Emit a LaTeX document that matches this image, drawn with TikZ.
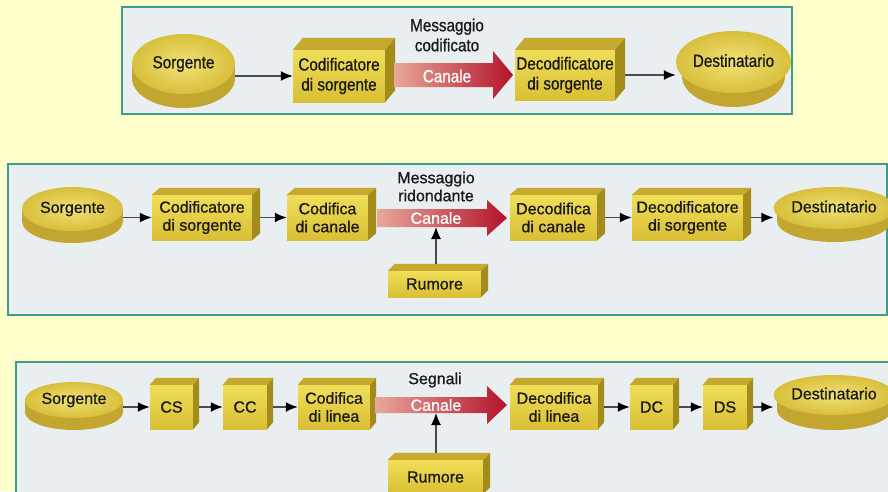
\documentclass[tikz,border=0pt]{standalone}
\usepackage{fontspec}
\setmainfont{Liberation Sans}[FakeBold=0.9]
\newfontfamily\condfont{Liberation Sans}[FakeStretch=0.87,FakeBold=0.9]
\usetikzlibrary{arrows.meta,calc,shapes.geometric}
\definecolor{bgyellow}{HTML}{FFFFCC}
\definecolor{panelfill}{HTML}{E9EEF0}
\definecolor{panelborder}{HTML}{3E9C8C}
\definecolor{boxfrontA}{HTML}{F0DE58}
\definecolor{boxfrontB}{HTML}{D9BF34}
\definecolor{boxtop}{HTML}{C6AA30}
\definecolor{boxside}{HTML}{A38C1C}
\definecolor{cyltop}{HTML}{F1E276}
\definecolor{cyledge}{HTML}{D8BF3C}
\definecolor{cylside}{HTML}{C2A630}
\definecolor{txt}{HTML}{1A1A1A}
\definecolor{linegray}{HTML}{4A4A4A}
\definecolor{canaleL}{HTML}{E8A89A}
\definecolor{canaleR}{HTML}{B3132A}
\newcommand\pone{\condfont\fontsize{17.5}{20}\selectfont}
\newcommand\ptwo{\fontsize{16}{18}\selectfont}
% #1 name, #2 x, #3 y, #4 w, #5 h, #6 side, #7 top
\newcommand\cubebox[8]{%
  \fill[boxtop] (#1.north west) -- ([shift={(#6,-#7)}]#1.north west) -- ([shift={(#6,-#7)}]#1.north east) -- (#1.north east) -- cycle;
  \fill[boxside] (#1.north east) -- ([shift={(#6,-#7)}]#1.north east) -- ([shift={(#6,-#7)}]#1.south east) -- (#1.south east) -- cycle;
}
\newcommand\mkbox[8]{%
  \node[frontface, minimum width=#4, minimum height=#5] (#1) at (#2,#3) {#8};
  \cubebox{#1}{#2}{#3}{#4}{#5}{#6}{#7}{}%
}
% #1 name, #2 cx, #3 C, #4 rx, #5 ry, #6 h, #7 text
\newcommand\puck[7]{%
  \fill[cylside] (#2,#3+#6) ellipse[x radius=#4, y radius=#5];
  \fill[cylside] (#2-#4,#3) rectangle (#2+#4,#3+#6);
  \node[topface, minimum width=2*#4, minimum height=2*#5] (#1) at (#2,#3) {\raisebox{3pt}{#7}};
}
% #1 x0, #2 tip x, #3 ymid, #4 shaft half, #5 head half, #6 head length
\newcommand\bigarrow[6]{%
  \shade[left color=canaleL, right color=canaleR] (#1,#3-#4) -- (#2-#6,#3-#4) -- (#2-#6,#3-#5) -- (#2,#3) -- (#2-#6,#3+#5) -- (#2-#6,#3+#4) -- (#1,#3+#4) -- cycle;
}
\begin{document}
\begin{tikzpicture}[x=1pt,y=-1pt,
  panel/.style={draw=panelborder, line width=1.4pt, fill=panelfill},
  frontface/.style={inner sep=0pt, align=center, text=txt, top color=boxfrontA, bottom color=boxfrontB},
  topface/.style={ellipse, inner sep=0pt, text=txt, inner color=cyltop, outer color=cyledge},
  conn/.style={draw=linegray, line width=1.6pt, -{Latex[length=12pt,width=10pt,color=black]}},
  noise/.style={draw=linegray, line width=1.1pt, -{Latex[length=12pt,width=10pt,color=black]}},
  lbl/.style={inner sep=0pt, align=center, text=txt},
  chan/.style={inner sep=0pt, text=white}]
\useasboundingbox (0,0) rectangle (888,491);
\clip (0,0) rectangle (888,491);
\fill[bgyellow] (0,0) rectangle (888,491);

% ---------------- Panel 1 ----------------
\draw[panel] (122,7) rectangle (792,114);
\begin{scope}[every node/.append style={font=\pone}]
\puck{S1}{183.5}{64}{51.5}{30}{14}{Sorgente}
\mkbox{A1}{339}{76}{92}{52}{10}{12}{Codificatore\\di sorgente}
\bigarrow{394}{513}{75}{12}{24}{20}
\node[chan] (K1) at (447,76) {Canale};
\node[lbl] (M1) at (447,35) {Messaggio\\codificato};
\mkbox{B1}{565}{75}{100}{50}{10}{12}{Decodificatore\\di sorgente}
\puck{D1}{733.5}{62}{51.5}{31}{14}{Destinatario}
\end{scope}
\draw[conn] (S1.east |- A1.west) -- (A1.west);
\draw[conn] ([xshift=10pt]B1.east) -- (D1.west |- B1.east);

% ---------------- Panel 2 ----------------
\draw[panel] (8,164) rectangle (887,315);
\begin{scope}[every node/.append style={font=\ptwo}]
\puck{S2}{72.5}{209}{50.5}{22}{12}{Sorgente}
\mkbox{A2}{202}{217.5}{100}{45}{8}{7}{Codificatore\\di sorgente}
\mkbox{B2}{327.5}{217.5}{81}{45}{8}{7}{Codifica\\di canale}
\bigarrow{377}{507}{218}{9}{18}{20}
\node[chan] (K2) at (436,218) {Canale};
\coordinate (K2b) at (436,227);
\node[lbl] (M2) at (436,186.5) {Messaggio\\ridondante};
\mkbox{C2}{553.5}{217.5}{87}{45}{8}{7}{Decodifica\\di canale}
\mkbox{E2}{687.5}{217.5}{111}{45}{8}{7}{Decodificatore\\di sorgente}
\puck{D2}{834}{208}{57}{21}{13}{Destinatario}
\mkbox{R2}{434.5}{284}{93}{26}{7}{7}{Rumore}
\end{scope}
\draw[conn] (S2.east |- A2.west) -- (A2.west);
\draw[conn] ([xshift=8pt]A2.east) -- (B2.west);
\draw[conn] ([xshift=8pt]C2.east) -- (E2.west);
\draw[conn] ([xshift=8pt]E2.east) -- (D2.west |- E2.east);
\draw[noise] ([yshift=7pt]R2.north -| K2b) -- (K2b);

% ---------------- Panel 3 ----------------
\draw[panel] (16,362) rectangle (900,500);
\begin{scope}[every node/.append style={font=\ptwo}]
\puck{S3}{74}{400}{49}{18}{12}{Sorgente}
\mkbox{CS}{171.5}{407}{43}{44}{6}{7}{CS}
\mkbox{CC}{245}{407}{44}{44}{6}{7}{CC}
\mkbox{L3}{334}{407}{72}{44}{6}{7}{Codifica\\di linea}
\bigarrow{375}{507}{405}{8}{19}{20}
\node[chan] (K3) at (436,405) {Canale};
\coordinate (K3b) at (436,413);
\node[lbl] (G3) at (435,380) {Segnali};
\mkbox{F3}{554}{407}{88}{44}{6}{7}{Decodifica\\di linea}
\mkbox{DC}{651.5}{407}{43}{44}{6}{7}{DC}
\mkbox{DS}{725}{407}{44}{44}{6}{7}{DS}
\puck{D3}{834}{395}{57}{20}{15}{Destinatario}
\mkbox{R3}{435.5}{477}{95}{34}{7}{7}{Rumore}
\end{scope}
\draw[conn] (S3.east |- CS.west) -- (CS.west);
\draw[conn] ([xshift=6pt]CS.east) -- (CC.west);
\draw[conn] ([xshift=6pt]CC.east) -- (L3.west);
\draw[conn] ([xshift=6pt]F3.east) -- (DC.west);
\draw[conn] ([xshift=6pt]DC.east) -- (DS.west);
\draw[conn] ([xshift=6pt]DS.east) -- (D3.west |- DS.east);
\draw[noise] ([yshift=7pt]R3.north -| K3b) -- (K3b);
\end{tikzpicture}
\end{document}
